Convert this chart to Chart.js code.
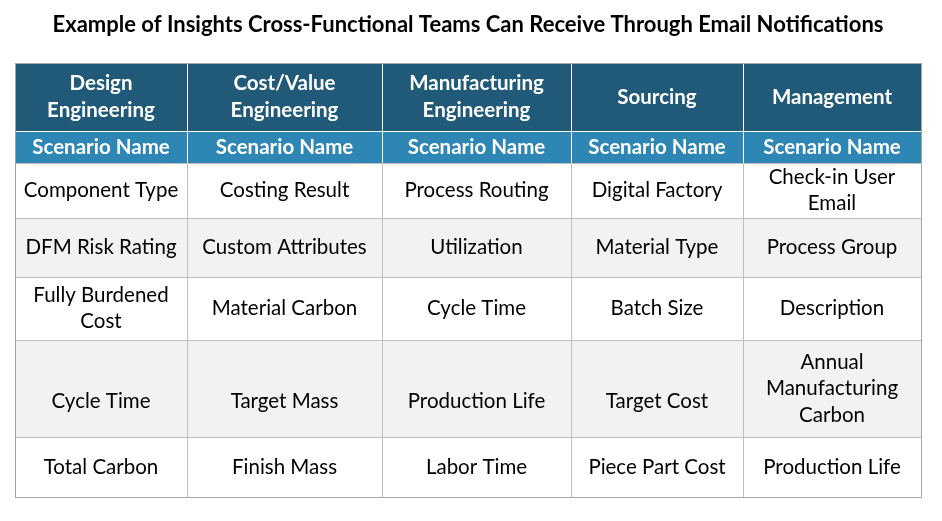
<!DOCTYPE html>
<html><head><meta charset="utf-8">
<script src="https://cdn.jsdelivr.net/npm/chart.js@4"></script>
<style>html,body{margin:0;padding:0;background:#fff}#w{width:942px;height:521px}</style>
</head><body><div id="w"><canvas id="c"></canvas></div>
<script>
const title = "Example of Insights Cross-Functional Teams Can Receive Through Email Notifications";
const headers = ["Design\nEngineering","Cost/Value\nEngineering","Manufacturing\nEngineering","Sourcing","Management"];
const subHeader = "Scenario Name";
const row1 = ["Component Type","Costing Result","Process Routing","Digital Factory","Check-in User\nEmail"];
const row2 = ["DFM Risk Rating","Custom Attributes","Utilization","Material Type","Process Group"];
const row3 = ["Fully Burdened\nCost","Material Carbon","Cycle Time","Batch Size","Description"];
const row4 = ["Cycle Time","Target Mass","Production Life","Target Cost","Annual\nManufacturing\nCarbon"];
const row5 = ["Total Carbon","Finish Mass","Labor Time","Piece Part Cost","Production Life"];
const rows = [row1,row2,row3,row4,row5];

// layout (not data)
const colEdges = [15,187,382,571,743,921];
const rowEdges = [63,131,163,218,277,340,437,497];

const tablePlugin = {
  id:'table',
  afterDraw(chart){
    const ctx = chart.ctx, xs = chart.scales.x, ys = chart.scales.y;
    const X = v=>xs.getPixelForValue(v), Y = v=>ys.getPixelForValue(v);
    ctx.save();
    ctx.textAlign='center'; ctx.textBaseline='middle';
    ctx.fillStyle='#000'; ctx.font='bold 22px Lato, "Open Sans", sans-serif';
    ctx.fillText(title, X(468), Y(25));
    const lh = 26.5;
    function cell(c, r, text, bg, color, font){
      const x0=X(colEdges[c]), x1=X(colEdges[c+1]), y0=Y(rowEdges[r]), y1=Y(rowEdges[r+1]);
      ctx.fillStyle=bg; ctx.fillRect(x0,y0,x1-x0,y1-y0);
      ctx.strokeStyle = r<2 ? '#ffffff' : '#bfbfbf'; ctx.lineWidth=1;
      ctx.strokeRect(x0+0.5,y0+0.5,x1-x0,y1-y0);
      ctx.fillStyle=color; ctx.font=font;
      const lines=text.split('\n');
      let cy=(y0+y1)/2 - (lines.length-1)*lh/2;
      if (r===5 && lines.length===1) cy = y1 - 36;
      lines.forEach((l,i)=>ctx.fillText(l,(x0+x1)/2,cy+i*lh));
    }
    const bf='bold 20.5px Lato, "Open Sans", sans-serif', nf='20.5px Lato, "Open Sans", sans-serif';
    headers.forEach((h,c)=>cell(c,0,h,'#215a78','#fff',bf));
    headers.forEach((h,c)=>cell(c,1,subHeader,'#2e86b4','#fff',bf));
    rows.forEach((row,ri)=>row.forEach((t,c)=>cell(c,ri+2,t, ri%2===1?'#f2f2f2':'#ffffff','#000',nf)));
    ctx.strokeStyle='#a6a6a6';
    ctx.strokeRect(X(colEdges[0])+0.5,Y(rowEdges[0])+0.5,X(colEdges[5])-X(colEdges[0]),Y(rowEdges[7])-Y(rowEdges[0]));
    ctx.restore();
  }
};

new Chart(document.getElementById('c'),{
  type:'scatter',
  data:{datasets:[{data:[],pointRadius:0}]},
  options:{
    responsive:true, maintainAspectRatio:false, animation:false,
    layout:{padding:0},
    plugins:{legend:{display:false},tooltip:{enabled:false}},
    scales:{
      x:{type:'linear',min:0,max:942,display:false},
      y:{type:'linear',min:0,max:521,reverse:true,display:false}
    }
  },
  plugins:[tablePlugin]
});
</script></body></html>
